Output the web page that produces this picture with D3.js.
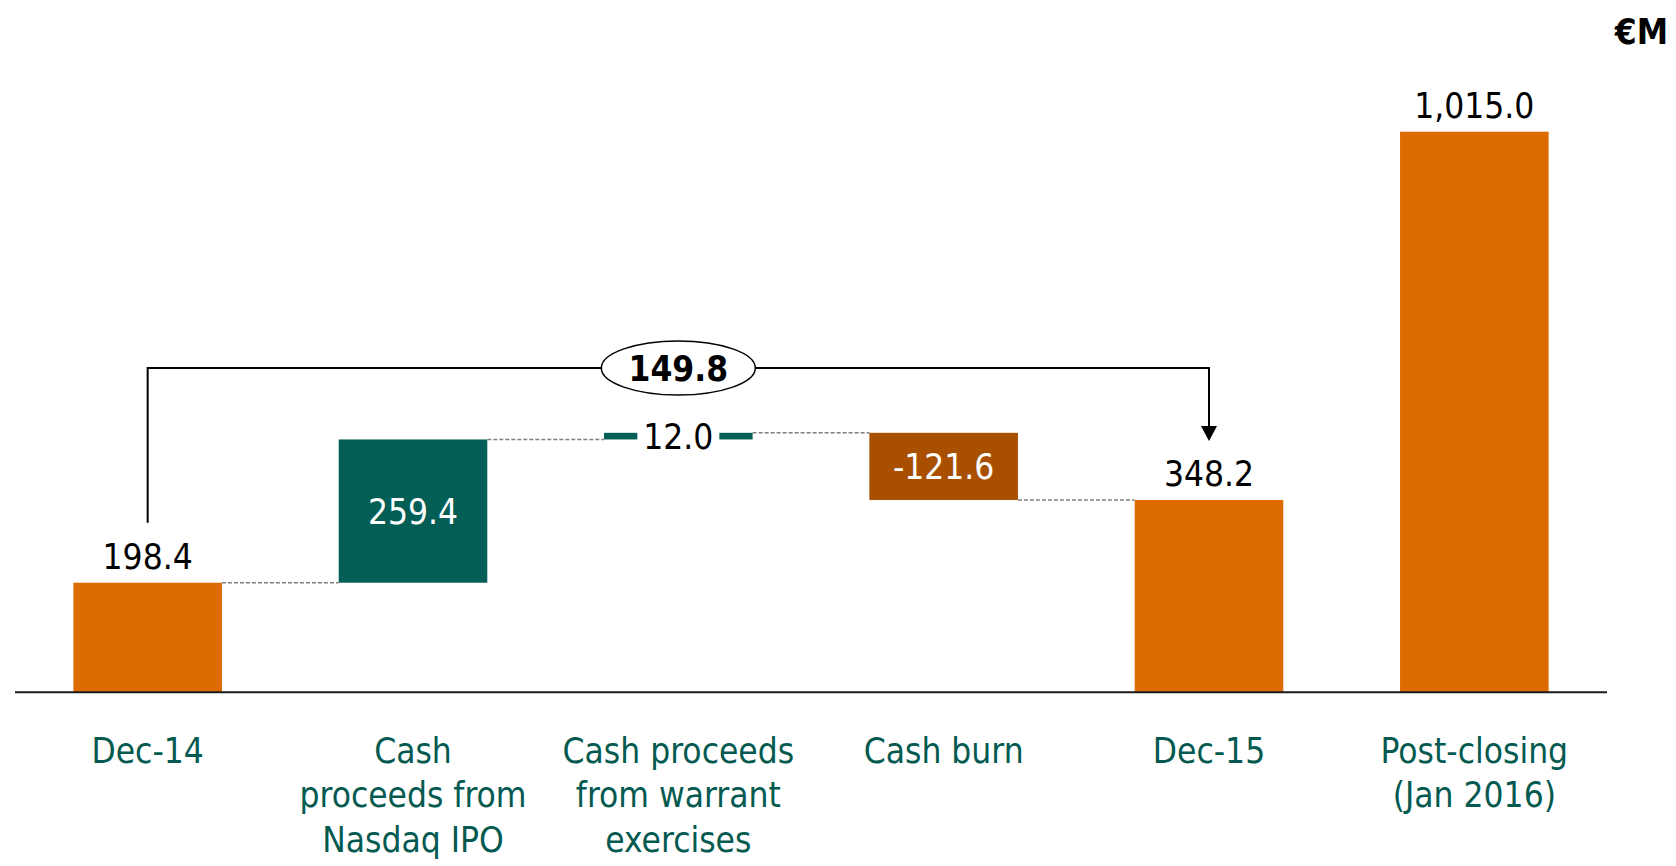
<!DOCTYPE html>
<html>
<head>
<meta charset="utf-8">
<script src="https://cdn.jsdelivr.net/npm/d3@7"></script>
<style>
  body { margin: 0; background: #fff; }
  svg text { font-family: "DejaVu Sans Condensed", "DejaVu Sans", sans-serif; font-stretch: condensed; }
</style>
</head>
<body>
<script>
// chart data
var categories = ["Dec-14", "Cash proceeds from Nasdaq IPO", "Cash proceeds from warrant exercises", "Cash burn", "Dec-15", "Post-closing (Jan 2016)"];
var labelLines = [["Dec-14"], ["Cash", "proceeds from", "Nasdaq IPO"], ["Cash proceeds", "from warrant", "exercises"], ["Cash burn"], ["Dec-15"], ["Post-closing", "(Jan 2016)"]];
var values = [198.4, 259.4, 12.0, -121.6, 348.2, 1015.0];
var kinds = ["total", "up", "up", "down", "total", "total"];
var valueLabels = ["198.4", "259.4", "12.0", "-121.6", "348.2", "1,015.0"];
var bracketValue = "149.8"; // change Dec-14 -> Dec-15
var unitLabel = "€M";

var width = 1676, height = 866;
var colors = {total: "#de6b00", up: "#035e55", down: "#a85000"};
var teal = "#045a50";

var svg = d3.select("body").append("svg")
    .attr("width", width)
    .attr("height", height);

var x = d3.scaleBand()
    .domain(categories)
    .range([15, 1607])
    .paddingInner(0.44)
    .paddingOuter(0.22);

var y = d3.scaleLinear()
    .domain([0, 1015])
    .range([692.3, 131.7]);

// work out start / end of each bar
var bars = [];
var running = 0;
for (var i = 0; i < values.length; i++) {
    var start, end;
    if (kinds[i] == "total") {
        start = 0; end = values[i];
    } else {
        start = running; end = running + values[i];
    }
    running = end;
    bars.push({cat: categories[i], start: start, end: end, kind: kinds[i], label: valueLabels[i], lines: labelLines[i]});
}

// dashed connectors (none between Dec-15 and post-closing)
for (var i = 0; i < 4; i++) {
    svg.append("line")
        .attr("x1", x(bars[i].cat) + x.bandwidth())
        .attr("x2", x(bars[i + 1].cat))
        .attr("y1", y(bars[i].end))
        .attr("y2", y(bars[i].end))
        .attr("stroke", "#808080")
        .attr("stroke-width", 1.5)
        .attr("stroke-dasharray", "4,2");
}

svg.selectAll(".bar")
    .data(bars)
    .enter().append("rect")
    .attr("class", "bar")
    .attr("x", function(d) { return x(d.cat); })
    .attr("width", x.bandwidth())
    .attr("y", function(d) { return y(Math.max(d.start, d.end)); })
    .attr("height", function(d) { return Math.abs(y(d.start) - y(d.end)); })
    .attr("fill", function(d) { return colors[d.kind]; });

// axis line
svg.append("line")
    .attr("x1", x.range()[0]).attr("x2", x.range()[1])
    .attr("y1", y(0)).attr("y2", y(0))
    .attr("stroke", "#1a1a1a")
    .attr("stroke-width", 2);

// value labels
bars.forEach(function(d) {
    var cx = x(d.cat) + x.bandwidth() / 2;
    if (d.kind == "total") {
        svg.append("text")
            .attr("x", cx).attr("y", y(d.end) - 14)
            .attr("text-anchor", "middle")
            .attr("font-size", "35px")
            .attr("fill", "#000")
            .text(d.label);
    } else if (Math.abs(y(d.start) - y(d.end)) > 40) {
        svg.append("text") // label inside the bar
            .attr("x", cx).attr("y", (y(d.start) + y(d.end)) / 2)
            .attr("dy", "0.36em")
            .attr("text-anchor", "middle")
            .attr("font-size", "35px")
            .attr("fill", "#fff")
            .text(d.label);
    } else {
        var my = (y(d.start) + y(d.end)) / 2;
        svg.append("rect") // white gap behind the label
            .attr("x", cx - 41).attr("y", my - 20)
            .attr("width", 82).attr("height", 40)
            .attr("fill", "#fff");
        svg.append("text")
            .attr("x", cx).attr("y", my)
            .attr("dy", "0.36em")
            .attr("text-anchor", "middle")
            .attr("font-size", "35px")
            .attr("fill", "#000")
            .text(d.label);
    }
});

// category labels
var cats = svg.selectAll(".cat")
    .data(bars)
    .enter().append("text")
    .attr("class", "cat")
    .attr("text-anchor", "middle")
    .attr("font-size", "35px")
    .attr("fill", teal)
    .attr("transform", function(d) { return "translate(" + (x(d.cat) + x.bandwidth() / 2) + ",762.7)"; });

cats.selectAll("tspan")
    .data(function(d) { return d.lines; })
    .enter().append("tspan")
    .attr("x", 0)
    .attr("y", function(d, i) { return i * 44.7; })
    .text(function(d) { return d; });

// bracket from Dec-14 to Dec-15
var xa = x(categories[0]) + x.bandwidth() / 2;
var xb = x(categories[4]) + x.bandwidth() / 2;
var by = 368;
var tipY = y(values[4]) - 59;
svg.append("path")
    .attr("d", "M" + xa + "," + (y(values[0]) - 60) + "V" + by + "H" + xb + "V" + (tipY - 14))
    .attr("fill", "none")
    .attr("stroke", "#000")
    .attr("stroke-width", 2);
svg.append("path")
    .attr("d", "M" + (xb - 8) + "," + (tipY - 15) + "L" + (xb + 8) + "," + (tipY - 15) + "L" + xb + "," + tipY + "Z")
    .attr("fill", "#000");

var ex = x(categories[2]) + x.bandwidth() / 2;
svg.append("ellipse")
    .attr("cx", ex).attr("cy", by)
    .attr("rx", 77).attr("ry", 27)
    .attr("fill", "#fff")
    .attr("stroke", "#000")
    .attr("stroke-width", 1.5);
svg.append("text")
    .attr("x", ex).attr("y", by)
    .attr("dy", "0.36em")
    .attr("text-anchor", "middle")
    .attr("font-size", "35px")
    .attr("font-weight", "bold")
    .text(bracketValue);

svg.append("text")
    .attr("x", 1668).attr("y", 44)
    .attr("text-anchor", "end")
    .attr("font-size", "35px")
    .attr("font-weight", "bold")
    .text(unitLabel);
</script>
</body>
</html>
